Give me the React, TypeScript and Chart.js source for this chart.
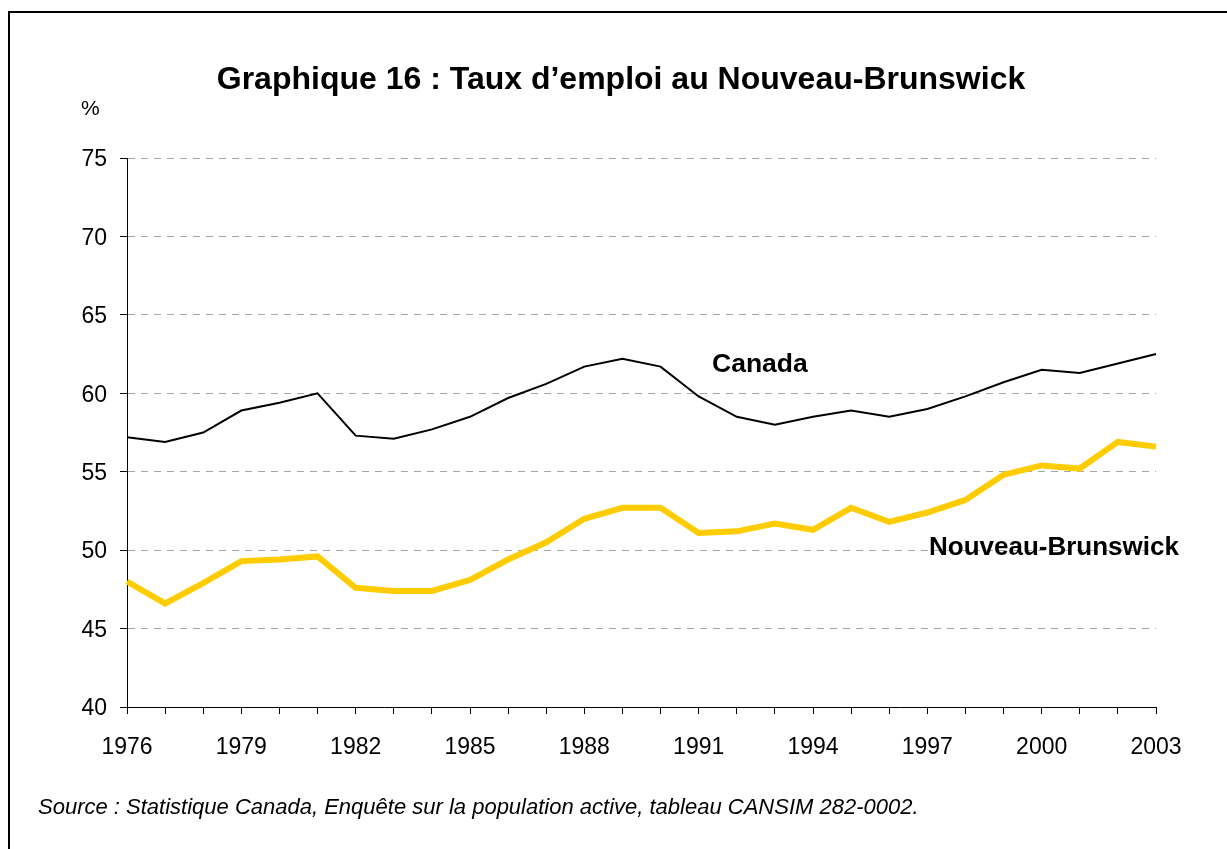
import React, { useEffect, useRef } from "react";
import { Chart, registerables } from "chart.js";

Chart.register(...registerables);

const years = [
  "1976", "1977", "1978", "1979", "1980", "1981", "1982", "1983", "1984", "1985",
  "1986", "1987", "1988", "1989", "1990", "1991", "1992", "1993", "1994", "1995",
  "1996", "1997", "1998", "1999", "2000", "2001", "2002", "2003",
];

const canada = [
  57.2, 56.9, 57.5, 58.9, 59.4, 60.0, 57.3, 57.1, 57.7, 58.5,
  59.7, 60.6, 61.7, 62.2, 61.7, 59.8, 58.5, 58.0, 58.5, 58.9,
  58.5, 59.0, 59.8, 60.7, 61.5, 61.3, 61.9, 62.5,
];

const nouveauBrunswick = [
  48.0, 46.6, 47.9, 49.3, 49.4, 49.6, 47.6, 47.4, 47.4, 48.1,
  49.4, 50.5, 52.0, 52.7, 52.7, 51.1, 51.2, 51.7, 51.3, 52.7,
  51.8, 52.4, 53.2, 54.8, 55.4, 55.2, 56.9, 56.6,
];

const yTicks = [40, 45, 50, 55, 60, 65, 70, 75];

const FONT = "'Liberation Sans', Arial, Helvetica, sans-serif";

export default function App() {
  const ref = useRef<HTMLCanvasElement | null>(null);

  useEffect(() => {
    if (!ref.current) return;
    const chart = new Chart(ref.current, {
      type: "line",
      data: {
        labels: years,
        datasets: [
          {
            label: "Canada",
            data: canada,
            borderColor: "#000000",
            borderWidth: 2,
            pointRadius: 0,
            tension: 0,
            fill: false,
          },
          {
            label: "Nouveau-Brunswick",
            data: nouveauBrunswick,
            borderColor: "#FFCC00",
            borderWidth: 6,
            pointRadius: 0,
            tension: 0,
            fill: false,
            borderJoinStyle: "miter",
          },
        ],
      },
      options: {
        animation: false,
        responsive: false,
        maintainAspectRatio: false,
        layout: { padding: { top: 158, right: 71, left: 0, bottom: 0 } },
        plugins: {
          legend: { display: false },
          tooltip: { enabled: false },
          title: { display: false },
        },
        scales: {
          x: {
            type: "category",
            offset: false,
            afterFit: (scale: any) => {
              scale.height = 142;
            },
            grid: {
              display: true,
              drawOnChartArea: false,
              drawTicks: true,
              tickLength: 7,
              tickColor: "#000000",
              tickWidth: 1,
            },
            border: { display: true, color: "#000000", width: 1 },
            ticks: {
              autoSkip: false,
              maxRotation: 0,
              minRotation: 0,
              padding: 20,
              color: "#000000",
              font: { family: FONT, size: 23 },
              callback: (_v: any, i: number) => (i % 3 === 0 ? years[i] : ""),
            },
          },
          y: {
            min: 40,
            max: 75,
            afterFit: (scale: any) => {
              scale.width = 127;
            },
            afterBuildTicks: (scale: any) => {
              scale.ticks = yTicks.map((v) => ({ value: v }));
            },
            grid: {
              display: true,
              color: "#a6a6a6",
              lineWidth: 1,
              drawTicks: true,
              tickLength: 7,
              tickColor: "#000000",
              tickWidth: 1,
            },
            border: { display: true, color: "#000000", width: 1, dash: [7, 6] },
            ticks: {
              padding: 13,
              labelOffset: 2,
              color: "#000000",
              font: { family: FONT, size: 23 },
            },
          },
        },
      },
    });
    return () => chart.destroy();
  }, []);

  const textBase: React.CSSProperties = {
    position: "absolute",
    fontFamily: FONT,
    color: "#000",
    whiteSpace: "nowrap",
    margin: 0,
  };

  return (
    <div
      style={{
        position: "absolute",
        left: 0,
        top: 0,
        width: 1227,
        height: 849,
        background: "#fff",
        overflow: "hidden",
      }}
    >
      <div
        style={{
          position: "absolute",
          left: 8,
          top: 11,
          width: 1230,
          height: 850,
          borderTop: "2px solid #000",
          borderLeft: "2px solid #000",
          boxSizing: "border-box",
        }}
      />
      <canvas
        ref={ref}
        width={1227}
        height={849}
        style={{ position: "absolute", left: 0, top: 0, width: 1227, height: 849 }}
      />
      <div
        style={{
          ...textBase,
          left: 0,
          width: 1242,
          textAlign: "center",
          top: 61,
          fontSize: 32,
          lineHeight: "34px",
          fontWeight: "bold",
        }}
      >
        Graphique 16 : Taux d’emploi au Nouveau-Brunswick
      </div>
      <div style={{ ...textBase, left: 81, top: 97, fontSize: 21, lineHeight: "22px" }}>%</div>
      <div
        style={{ ...textBase, left: 712, top: 350, fontSize: 26.5, lineHeight: "27px", fontWeight: "bold" }}
      >
        Canada
      </div>
      <div
        style={{ ...textBase, left: 929, top: 533, fontSize: 26, lineHeight: "27px", fontWeight: "bold" }}
      >
        Nouveau-Brunswick
      </div>
      <div
        style={{ ...textBase, left: 38, top: 795, fontSize: 22, lineHeight: "24px", fontStyle: "italic" }}
      >
        Source : Statistique Canada, Enquête sur la population active, tableau CANSIM 282-0002.
      </div>
    </div>
  );
}
